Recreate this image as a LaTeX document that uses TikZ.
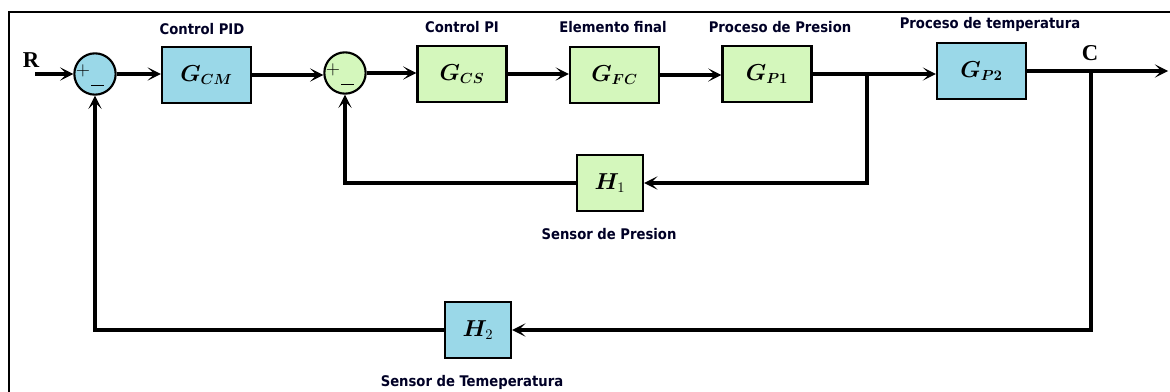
\documentclass[tikz,border=0pt]{standalone}
\usepackage{fontspec}
\usepackage{bm}
\usetikzlibrary{arrows.meta}
\newfontfamily\lblfont{DejaVu Sans Condensed}[BoldFont={DejaVu Sans Condensed Bold}]
\newfontfamily\sigfont{Liberation Serif}
\definecolor{bblue}{HTML}{9AD8E8}
\definecolor{bgreen}{HTML}{D4F7BC}
\tikzset{
  blk/.style={draw=black, line width=1.6pt, minimum width=66.75pt, minimum height=42pt, inner sep=0pt, font=\fontsize{16}{18}\selectfont},
  sblk/.style={draw=black, line width=1.6pt, minimum width=49.5pt, minimum height=42pt, inner sep=0pt, font=\fontsize{16}{18}\selectfont},
  sumc/.style={circle, draw=black, line width=1.6pt, minimum size=31pt, inner sep=0pt},
  wire/.style={line width=2.6pt},
  arr/.style={wire, -{Stealth[length=10pt, width=10pt, inset=5pt]}},
  lbl/.style={font=\lblfont\bfseries\fontsize{11}{13}\selectfont, text=black!85!blue, inner sep=0pt},
  sig/.style={font=\sigfont\bfseries\fontsize{17}{19}\selectfont, inner sep=0pt},
  pm/.style={font=\fontsize{14}{14}\selectfont, inner sep=0pt}
}
\begin{document}
\begin{tikzpicture}[x=0.75pt, y=-0.75pt]
\useasboundingbox (0,0) rectangle (1170,392);
\fill[white] (0,0) rectangle (1170,392);
\draw[line width=1.6pt] (9,392) -- (9,12) -- (1170,12);

% summing junctions
\node[sumc, fill=bblue] (s1) at (95,74) {};
\node[sumc, fill=bgreen] (s2) at (345,73) {};
\node[pm] (p1) at (83,71) {+};
\node[pm] (p2) at (333,70) {+};
\draw[line width=0.7pt] (91,85) -- (104,85);
\draw[line width=0.7pt] (341,84) -- (354,84);

% blocks
\node[blk, fill=bblue] (gcm) at (206.5,75) {$\bm{G}_{\bm{CM}}$};
\node[blk, fill=bgreen] (gcs) at (462,74) {$\bm{G}_{\bm{CS}}$};
\node[blk, fill=bgreen] (gfc) at (614.5,75) {$\bm{G}_{\bm{FC}}$};
\node[blk, fill=bgreen] (gp1) at (767,74) {$\bm{G}_{\bm{P1}}$};
\node[blk, fill=bblue] (gp2) at (981.5,71) {$\bm{G}_{\bm{P2}}$};
\node[sblk, fill=bgreen] (h1) at (610,183) {$\bm{H}_{1}$};
\node[sblk, fill=bblue] (h2) at (478,330) {$\bm{H}_{2}$};

% labels
\node[lbl] (l1) at (202,29) {Control PID};
\node[lbl] (l2) at (462,27) {Control PI};
\node[lbl] (l3) at (613,27) {Elemento final};
\node[lbl] (l4) at (780,27) {Proceso de Presion};
\node[lbl] (l5) at (990,24) {Proceso de temperatura};
\node[lbl] (l6) at (609,234) {Sensor de Presion};
\node[lbl] (l7) at (472,382) {Sensor de Temeperatura};
\node[sig] (R) at (31,60) {R};
\node[sig] (C) at (1090,53) {C};

% coordinates
\coordinate (rin) at (35,74);
\coordinate (b1) at (867,74);
\coordinate (b2) at (1091,71);
\coordinate (out) at (1168,71);

% forward path
\draw[arr] (rin) -- (s1.west);
\draw[arr] (s1.east) -- (s1.east -| gcm.west);
\draw[arr] (gcm.east) -- (gcm.east -| s2.west);
\draw[arr] (s2.east) -- (s2.east -| gcs.west);
\draw[arr] (gcs.east) -- (gcs.east -| gfc.west);
\draw[arr] (gfc.east) -- (gfc.east -| gp1.west);
\draw[arr] (gp1.east) -- (gp1.east -| gp2.west);
\draw[arr] (gp2.east) -- (out);

% feedback paths
\draw[arr] (b1) |- (h1.east);
\draw[arr] (h1.west) -| (s2.south);
\draw[arr] (b2) |- (h2.east);
\draw[arr] (h2.west) -| (s1.south);
\end{tikzpicture}
\end{document}
